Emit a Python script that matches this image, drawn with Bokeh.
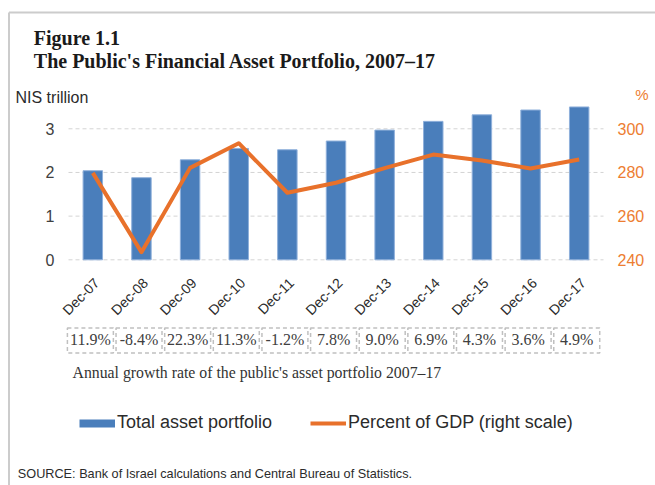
from math import pi
import numpy as np
from bokeh.plotting import figure
from bokeh.models import (Range1d, LinearAxis, FixedTicker, ColumnDataSource,
                          Label, Legend, LegendItem)
from bokeh.embed import file_html
from bokeh.resources import INLINE
from bokeh.core.properties import value

# ---------------- data ----------------
categories = ["Dec-07", "Dec-08", "Dec-09", "Dec-10", "Dec-11", "Dec-12",
              "Dec-13", "Dec-14", "Dec-15", "Dec-16", "Dec-17"]
total_assets = [2.04, 1.88, 2.29, 2.55, 2.52, 2.72, 2.97, 3.17, 3.32, 3.43, 3.50]   # NIS trillion
pct_of_gdp = [279.8, 243.5, 282.1, 293.4, 270.7, 275.3, 282.0, 288.2, 285.5, 281.8, 285.9]  # %
growth_rates = ["11.9%", "-8.4%", "22.3%", "11.3%", "-1.2%", "7.8%",
                "9.0%", "6.9%", "4.3%", "3.6%", "4.9%"]
left_ticks = [0, 1, 2, 3]
right_ticks = [240, 260, 280, 300]

title_line1 = "Figure 1.1"
title_line2 = "The Public's Financial Asset Portfolio, 2007\u201317"
left_unit = "NIS trillion"
right_unit = "%"
caption = "Annual growth rate of the public's asset portfolio 2007\u201317"
source_note = "SOURCE: Bank of Israel calculations and Central Bureau of Statistics."
legend_bar = "Total asset portfolio"
legend_line = "Percent of GDP (right scale)"

# ---------------- styling / geometry ----------------
BLUE = "#4a7ebb"
ORANGE = "#e8712b"
ORANGE_TXT = "#ed7d31"
DARK = "#2b2b2b"
GREY = "#404040"

W, H = 655, 485
PL, PR = 68, 603                        # plot-area left / right (px)
Y0 = 259.3                              # px of left-axis zero
PPU = 43.67                             # px per left-axis unit
R_BASE, R_PER = 240.0, 20.0             # right axis = 240 + 20 * left
n = len(categories)
CAT_W = (PR - PL) / n


def dx(px):
    return (px - PL) / CAT_W


def dy(py):
    return (Y0 - py) / PPU


y_start, y_end = dy(H), dy(0)
p = figure(x_range=Range1d(dx(0), dx(W)), y_range=Range1d(y_start, y_end),
           width=W, height=H, output_backend="svg", toolbar_location=None,
           x_axis_location=None, y_axis_location=None, title=None,
           min_border_left=0, min_border_right=0, min_border_top=0, min_border_bottom=0)
p.extra_y_ranges = {"pct": Range1d(R_BASE + R_PER * y_start, R_BASE + R_PER * y_end)}
p.background_fill_color = "white"
p.border_fill_color = "white"
p.outline_line_color = None
p.grid.visible = False


def style_axis(ax, color):
    ax.axis_line_color = None
    ax.major_tick_line_color = None
    ax.minor_tick_line_color = None
    ax.major_tick_out = 0
    ax.major_tick_in = 0
    ax.major_label_standoff = 14
    ax.major_label_text_font = "Liberation Sans"
    ax.major_label_text_font_size = "16px"
    ax.major_label_text_color = color


# left axis, pinned to the plot-area's left edge
ya = LinearAxis(ticker=FixedTicker(ticks=left_ticks), fixed_location=0)
style_axis(ya, GREY)
p.add_layout(ya, "left")

# right axis, pinned to the plot-area's right edge
ra = LinearAxis(y_range_name="pct", ticker=FixedTicker(ticks=right_ticks), fixed_location=n)
style_axis(ra, ORANGE_TXT)
p.add_layout(ra, "right")

xpos = [i + 0.5 for i in range(n)]
src = ColumnDataSource(dict(x=xpos, cat=categories, assets=total_assets, pct=pct_of_gdp,
                            growth=growth_rates,
                            box_x=[v - 0.05 for v in xpos],
                            lab_y=[dy(280)] * n,
                            box_y=[dy(340)] * n,
                            box_ty=[dy(338.5)] * n))

# horizontal dashed grid lines over the plot area
p.segment(x0=[0] * len(left_ticks), x1=[n] * len(left_ticks), y0=left_ticks, y1=left_ticks,
          line_color="#d4d4d4", line_dash="4 3", line_width=1)

# bars and line
p.vbar(x="x", top="assets", width=0.4, source=src, fill_color=BLUE,
       line_color="#8fb0db", line_width=1)
line_r = p.line(x="x", y="pct", source=src, y_range_name="pct", line_color=ORANGE,
                line_width=4, line_join="round")

# rotated category labels (reading upwards, ending at each category)
p.text(x="x", y="lab_y", text="cat", source=src, angle=pi / 4, x_offset=4,
       text_align="right", text_baseline="middle",
       text_font=value("Liberation Sans"), text_font_size=value("14px"), text_color=DARK)

# growth-rate boxes
p.rect(x="box_x", y="box_y", width=0.945, height=25 / PPU,
       source=src, fill_color=None, line_color="#c0c0c0", line_dash="4 3", line_width=1.5)
p.text(x="box_x", y="box_ty", text="growth", source=src,
       text_align="center", text_baseline="middle",
       text_font=value("Liberation Serif"), text_font_size=value("16px"), text_color=GREY)

# legend (bar sample drawn as a thick line sample)
bar_proxy = p.line(x=xpos, y=np.full(n, np.nan), line_color=BLUE, line_width=8)
legend = Legend(items=[LegendItem(label=legend_bar, renderers=[bar_proxy]),
                       LegendItem(label=legend_line, renderers=[line_r])],
                location=(79, 52), orientation="horizontal",
                glyph_width=36, glyph_height=20, label_height=20, label_standoff=2,
                spacing=38, padding=0, margin=0, border_line_color=None,
                background_fill_alpha=0,
                label_text_font="Liberation Sans", label_text_font_size="18px",
                label_text_color=DARK)
p.add_layout(legend)


def add_label(text, px, py, font, size, color, style="normal", align="left"):
    p.add_layout(Label(x=dx(px), y=dy(py), text=text, text_font=font,
                       text_font_size=size, text_color=color, text_font_style=style,
                       text_align=align, text_baseline="alphabetic"))


add_label(title_line1, 33.3, 37, "Liberation Serif", "20px", "#1a1a1a", "bold")
add_label(title_line2, 33.3, 60, "Liberation Serif", "20px", "#1a1a1a", "bold")
add_label(left_unit, 15, 97.3, "Liberation Sans", "16px", DARK)
add_label(right_unit, 648, 93.5, "Liberation Sans", "15px", ORANGE_TXT, align="right")
add_label(caption, 72, 372.3, "Liberation Serif", "15.8px", "#333333")
add_label(source_note, 17.3, 473.3, "Liberation Sans", "12.7px", DARK)

# thin grey frame: left and top edges of the figure box
p.segment(x0=[dx(8.5), dx(8.5)], y0=[dy(12), dy(12)], x1=[dx(8.5), dx(W)], y1=[dy(H), dy(12)],
          line_color="#cccccc", line_width=2)

open("out.html", "w").write(file_html(p, INLINE))
